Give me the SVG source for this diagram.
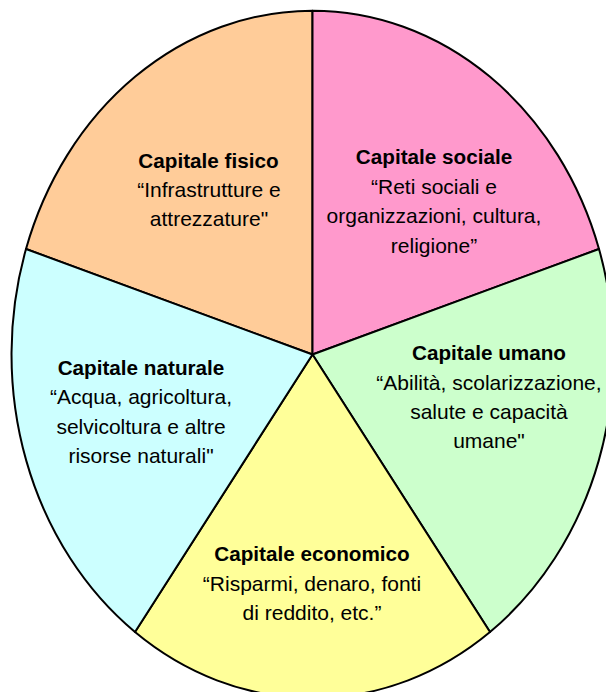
<svg xmlns="http://www.w3.org/2000/svg" width="606" height="692" viewBox="0 0 606 692">
<style>
.sec{stroke:#000;stroke-width:2;stroke-linejoin:round}
text{font-family:"Liberation Sans",Arial,sans-serif;font-size:21px;fill:#000;text-anchor:middle}
.t{font-weight:bold;font-size:20.7px}
</style>
<rect width="606" height="692" fill="#fff"/>
<g id="capitale-fisico">
<path class="sec" fill="#FFCC99" d="M312.5,354.5 L26,249 A301,343.8 0 0 1 312.5,10.7 Z"/>
<text class="t" x="208.5" y="168">Capitale fisico</text>
<text x="209" y="197">“Infrastrutture e</text>
<text x="209" y="226">attrezzature"</text>
</g>
<g id="capitale-sociale">
<path class="sec" fill="#FF99CC" d="M312.5,354.5 L312.5,10.7 A301,343.8 0 0 1 599,249 Z"/>
<text class="t" x="434" y="164">Capitale sociale</text>
<text x="434" y="194">“Reti sociali e</text>
<text x="434" y="223">organizzazioni, cultura,</text>
<text x="434" y="253">religione”</text>
</g>
<g id="capitale-umano">
<path class="sec" fill="#CCFFCC" d="M312.5,354.5 L599,249 A301,343.8 0 0 1 490,632 Z"/>
<text class="t" x="489" y="360">Capitale umano</text>
<text x="489" y="390">“Abilità, scolarizzazione,</text>
<text x="489" y="419">salute e capacità</text>
<text x="489" y="448">umane"</text>
</g>
<g id="capitale-economico">
<path class="sec" fill="#FFFF99" d="M312.5,354.5 L490,632 A301,343.8 0 0 1 135,632 Z"/>
<text class="t" x="312" y="561">Capitale economico</text>
<text x="312" y="591">“Risparmi, denaro, fonti</text>
<text x="312" y="620">di reddito, etc.”</text>
</g>
<g id="capitale-naturale">
<path class="sec" fill="#CCFFFF" d="M312.5,354.5 L135,632 A301,343.8 0 0 1 26,249 Z"/>
<text class="t" x="141" y="375">Capitale naturale</text>
<text x="141" y="404">“Acqua, agricoltura,</text>
<text x="141" y="434">selvicoltura e altre</text>
<text x="141" y="463">risorse naturali"</text>
</g>
<g id="connectors"/>
</svg>
